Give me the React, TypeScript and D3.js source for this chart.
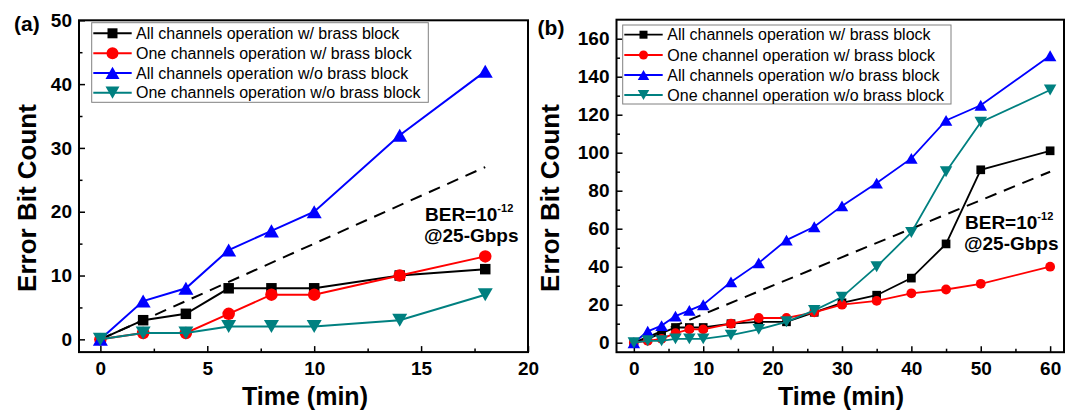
import React from 'react';
import * as d3 from 'd3';

// panel (a): 0-18 min
const timeA = [0, 2, 4, 6, 8, 10, 14, 18];
const allWithA = [0, 3, 4, 8, 8, 8, 10, 11];
const oneWithA = [0, 1, 1, 4, 7, 7, 10, 13];
const allWithoutA = [0, 6, 8, 14, 17, 20, 32, 42];
const oneWithoutA = [0, 1, 1, 2, 2, 2, 3, 7];
const berA = [0, 27];
const berTimeA = [0, 18];

// panel (b): 0-60 min
const timeB = [0, 2, 4, 6, 8, 10, 14, 18, 22, 26, 30, 35, 40, 45, 50, 60];
const allWithB = [0, 2, 5, 8, 8, 8, 10, 11, 11, 16, 21, 25, 34, 52, 91, 101];
const oneWithB = [0, 1, 2, 5, 7, 7, 10, 13, 13, 16, 20, 22, 26, 28, 31, 40];
const allWithoutB = [0, 6, 9, 14, 17, 20, 32, 42, 54, 61, 72, 84, 97, 117, 125, 151];
const oneWithoutB = [0, 1, 1, 2, 2, 2, 4, 7, 11, 17, 24, 40, 58, 90, 116, 133];
const berB = [0, 90];
const berTimeB = [0, 60];

const legendA = [
  'All channels operation w/ brass block',
  'One channels operation w/ brass block',
  'All channels operation w/o brass block',
  'One channels operation w/o brass block',
];
const legendB = [
  'All channels operation w/ brass block',
  'One channel operation w/ brass block',
  'All channels operation w/o brass block',
  'One channel operation w/o brass block',
];

const xTicksA = [0, 5, 10, 15, 20];
const xMinorA = [2.5, 7.5, 12.5, 17.5];
const yTicksA = [0, 10, 20, 30, 40, 50];
const yMinorA = [5, 15, 25, 35, 45];
const xTicksB = [0, 10, 20, 30, 40, 50, 60];
const xMinorB = [5, 15, 25, 35, 45, 55];
const yTicksB = [0, 20, 40, 60, 80, 100, 120, 140, 160];
const yMinorB = [10, 30, 50, 70, 90, 110, 130, 150];

const colors = ['#000000', '#ff0000', '#0000ff', '#008080'];
const shapes = ['square', 'circle', 'up', 'down'];
const FONT = "Arial, 'Liberation Sans', sans-serif";

function symbolPath(shape, s) {
  if (shape === 'square') return d3.symbol(d3.symbolSquare, s * s)();
  if (shape === 'circle') return d3.symbol(d3.symbolCircle, Math.PI * s * s / 4)();
  const h = s * 0.87;
  if (shape === 'up') return `M0,${-h / 2}L${s / 2},${h / 2}L${-s / 2},${h / 2}Z`;
  return `M0,${h / 2}L${s / 2},${-h / 2}L${-s / 2},${-h / 2}Z`;
}

const panels = [
  {
    label: '(a)', labelPos: [14, 31],
    time: timeA, series: [allWithA, oneWithA, allWithoutA, oneWithoutA],
    ber: berA, berTime: berTimeA, legend: legendA,
    xDomain: [-1, 20], xRange: [79, 528],
    yDomain: [-2, 50], yRange: [352.1, 20.3],
    xTicks: xTicksA, xMinor: xMinorA, yTicks: yTicksA, yMinor: yMinorA,
    sizes: { square: 10.5, circle: 12.5, up: 15, down: 15 },
    legendSizes: { square: 10, circle: 12, up: 14, down: 14 },
    lineW: 2,
    legendBox: [91.7, 22.7, 336.6, 79.6], rows: [33.3, 53.3, 72.9, 92.7],
    legendLine: [93.3, 131.7], textX: 136,
    berPos: [425, 220.7, 424, 241.5],
    yTitle: [27, 198], xTitle: [305, 405],
  },
  {
    label: '(b)', labelPos: [537.6, 35],
    time: timeB, series: [allWithB, oneWithB, allWithoutB, oneWithoutB],
    ber: berB, berTime: berTimeB, legend: legendB,
    xDomain: [-2.5, 62], xRange: [616.5, 1064],
    yDomain: [-5, 170], yRange: [352.2, 19.7],
    xTicks: xTicksB, xMinor: xMinorB, yTicks: yTicksB, yMinor: yMinorB,
    sizes: { square: 8.7, circle: 9.8, up: 12.5, down: 12.5 },
    legendSizes: { square: 8, circle: 9, up: 11.5, down: 11.5 },
    lineW: 1.8,
    legendBox: [622.7, 25, 328.3, 79], rows: [34.7, 55, 75, 95],
    legendLine: [624.3, 662.7], textX: 667.3,
    berPos: [965, 229, 964, 250],
    yTitle: [550, 198], xTitle: [841, 405],
  },
];

const App = () => {
  const svgRef = React.useRef(null);

  React.useEffect(() => {
    const svg = d3.select(svgRef.current);
    svg.selectAll('*').remove();

    panels.forEach(p => {
      const x = d3.scaleLinear().domain(p.xDomain).range(p.xRange);
      const y = d3.scaleLinear().domain(p.yDomain).range(p.yRange);
      const g = svg.append('g');

      // axes, ticks pointing inward
      const xAx = g.append('g').attr('transform', `translate(0,${p.yRange[0]})`)
        .call(d3.axisBottom(x).tickValues(p.xTicks).tickSize(-6).tickPadding(9));
      g.append('g').attr('transform', `translate(0,${p.yRange[0]})`)
        .call(d3.axisBottom(x).tickValues(p.xMinor).tickSize(-3.5).tickFormat(() => ''));
      const yAx = g.append('g').attr('transform', `translate(${p.xRange[0]},0)`)
        .call(d3.axisLeft(y).tickValues(p.yTicks).tickSize(-6).tickPadding(7));
      g.append('g').attr('transform', `translate(${p.xRange[0]},0)`)
        .call(d3.axisLeft(y).tickValues(p.yMinor).tickSize(-3.5).tickFormat(() => ''));
      g.selectAll('.domain').remove();
      g.selectAll('.tick line').attr('stroke', '#000').attr('stroke-width', 1.5);
      [xAx, yAx].forEach(a => a.selectAll('text')
        .attr('fill', '#000').attr('font-family', FONT)
        .attr('font-size', 19).attr('font-weight', 'bold'));

      g.append('rect')
        .attr('x', p.xRange[0]).attr('y', p.yRange[1])
        .attr('width', p.xRange[1] - p.xRange[0]).attr('height', p.yRange[0] - p.yRange[1])
        .attr('fill', 'none').attr('stroke', '#000').attr('stroke-width', 2);

      // BER reference line
      const line = d3.line().x(d => x(d[0])).y(d => y(d[1]));
      g.append('path')
        .attr('d', line(p.berTime.map((t, i) => [t, p.ber[i]])))
        .attr('fill', 'none').attr('stroke', '#000').attr('stroke-width', 2)
        .attr('stroke-dasharray', '12,8');

      p.series.forEach((vals, si) => {
        const pts = p.time.map((t, i) => [t, vals[i]]);
        g.append('path').attr('d', line(pts))
          .attr('fill', 'none').attr('stroke', colors[si]).attr('stroke-width', p.lineW);
        g.selectAll(null).data(pts).join('path')
          .attr('transform', d => `translate(${x(d[0])},${y(d[1])})`)
          .attr('d', symbolPath(shapes[si], p.sizes[shapes[si]]))
          .attr('fill', colors[si]);
      });

      // legend
      const [lx, ly, lw, lh] = p.legendBox;
      g.append('rect').attr('x', lx).attr('y', ly).attr('width', lw).attr('height', lh)
        .attr('fill', '#fff').attr('stroke', '#808080').attr('stroke-width', 1);
      p.legend.forEach((txt, i) => {
        const ry = p.rows[i];
        const mx = (p.legendLine[0] + p.legendLine[1]) / 2;
        g.append('line').attr('x1', p.legendLine[0]).attr('x2', p.legendLine[1])
          .attr('y1', ry).attr('y2', ry).attr('stroke', colors[i]).attr('stroke-width', p.lineW);
        g.append('path').attr('transform', `translate(${mx},${ry})`)
          .attr('d', symbolPath(shapes[i], p.legendSizes[shapes[i]])).attr('fill', colors[i]);
        g.append('text').attr('x', p.textX).attr('y', ry).attr('dy', '0.36em')
          .attr('font-family', FONT).attr('font-size', 16).attr('fill', '#000')
          .text(txt);
      });

      // annotation
      const ber = g.append('text').attr('x', p.berPos[0]).attr('y', p.berPos[1])
        .attr('font-family', FONT).attr('font-size', 19).attr('font-weight', 'bold');
      ber.append('tspan').text('BER=10');
      ber.append('tspan').attr('dy', -9).attr('font-size', 11).text('-12');
      g.append('text').attr('x', p.berPos[2]).attr('y', p.berPos[3])
        .attr('font-family', FONT).attr('font-size', 19).attr('font-weight', 'bold')
        .text('@25-Gbps');

      g.append('text').attr('x', p.labelPos[0]).attr('y', p.labelPos[1])
        .attr('font-family', FONT).attr('font-size', 21).attr('font-weight', 'bold')
        .text(p.label);

      g.append('text')
        .attr('transform', `translate(${p.yTitle[0]},${p.yTitle[1]}) rotate(-90)`)
        .attr('text-anchor', 'middle').attr('dy', '0.35em')
        .attr('font-family', FONT).attr('font-size', 26).attr('font-weight', 'bold')
        .text('Error Bit Count');
      g.append('text').attr('x', p.xTitle[0]).attr('y', p.xTitle[1])
        .attr('text-anchor', 'middle')
        .attr('font-family', FONT).attr('font-size', 25).attr('font-weight', 'bold')
        .text('Time (min)');
    });
  }, []);

  return (
    <svg ref={svgRef} width={1072} height={412}
      style={{ position: 'absolute', left: 0, top: 0, background: '#fff' }} />
  );
};

export default App;
